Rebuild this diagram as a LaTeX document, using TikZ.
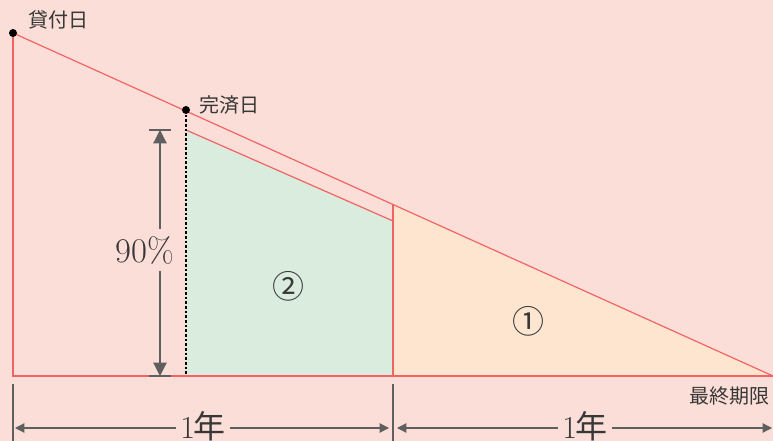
\documentclass[tikz,border=0pt]{standalone}
\usepackage{fontspec}
\newfontfamily\jpfont{Noto Sans CJK JP}
\usetikzlibrary{positioning, calc, arrows.meta}
\definecolor{bgpink}{RGB}{252,222,216}
\definecolor{greenfill}{RGB}{218,236,222}
\definecolor{orangefill}{RGB}{253,229,208}
\definecolor{linered}{RGB}{240,100,100}
\definecolor{dimgray}{RGB}{95,95,95}
\definecolor{textgray}{RGB}{55,55,55}

\begin{document}
\begin{tikzpicture}[
        x=0.75pt, y=-0.75pt,
        edge/.style={draw=linered, line width=0.9pt},
        dot/.style={circle, fill=black, inner sep=0pt, minimum size=6pt},
        datelabel/.style={font=\fontsize{15}{17}\selectfont\jpfont\light, text=textgray, inner sep=0pt},
        bigtext/.style={font=\fontsize{26}{28}\selectfont, text=textgray, inner sep=2pt},
        yeartext/.style={font=\fontsize{24}{26}\selectfont, text=textgray, inner sep=3pt},
        areatext/.style={font=\fontsize{24}{26}\selectfont\jpfont, text=textgray, inner sep=0pt},
        dimline/.style={draw=dimgray, line width=0.9pt},
        dimarrV/.style={-{Triangle[length=10pt, width=10pt]}, dimgray, line width=0.9pt},
        dimarrH/.style={-{Triangle[length=7pt, width=7pt]}, dimgray, line width=0.9pt},
    ]
    \providecommand\light{}
    % ---- Background ----
    \fill[bgpink] (0,0) rectangle (773,441);
    \useasboundingbox (0,0) rectangle (773,441);

    % ---- Key points ----
    \coordinate (A) at (13,33);
    \coordinate (O) at (13,376);
    \coordinate (E) at (773,376);
    \coordinate (P) at (186,110);
    \coordinate (Pb) at (186,376);
    \coordinate (G1) at (186,130);
    \coordinate (G2) at (393,221);
    \coordinate (Q) at (393,205);
    \coordinate (Qb) at (393,376);

    % ---- Areas ----
    \fill[greenfill] (G1) -- (G2) -- (Qb) -- (Pb) -- cycle;
    \fill[orangefill] (Q) -- (E) -- (Qb) -- cycle;

    % ---- Outlines ----
    \draw[edge] (A) -- (E);
    \draw[edge] (A) -- (O) -- (E);
    \draw[edge] (G1) -- (G2);
    \draw[edge] (Q) -- (Qb);
    \draw[black, line width=0.8pt, dash pattern=on 2pt off 1.5pt] (P) -- (Pb);

    % ---- Dates ----
    \node[dot] (loan) at (A) {};
    \node[dot] (repay) at (P) {};
    \node[datelabel, anchor=west] (loanL) at (28,20) {貸付日};
    \node[datelabel, anchor=west] (repayL) at (199,105) {完済日};
    \node[datelabel, anchor=east] (limitL) at (770,396) {最終期限};

    % ---- Area numbers ----
    \node[areatext] (n2) at (288,286) {②};
    \node[areatext] (n1) at (528,321) {①};

    % ---- 90% dimension ----
    \coordinate (vt) at (160,130);
    \coordinate (vb) at (160,376);
    \draw[dimline] (149,130) -- (171,130);
    \draw[dimline] (149,376) -- (171,376);
    \node[bigtext, inner sep=5pt] (pct) at (145,250) {90\%};
    \draw[dimarrV] (pct.north -| vt) -- (vt);
    \draw[dimarrV] (pct.south -| vb) -- (vb);

    % ---- Year dimensions ----
    \draw[dimline] (13,384) -- (13,441);
    \draw[dimline] (393,384) -- (393,441);
    \coordinate (y0) at (15,428);
    \coordinate (y1a) at (389,428);
    \coordinate (y1b) at (397,428);
    \coordinate (y2) at (772,428);
    \node[yeartext, anchor=base] (yearA) at (203,438) {1\kern-1pt{\jpfont 年}};
    \node[yeartext, anchor=base] (yearB) at (585,438) {1\kern-1pt{\jpfont 年}};
    \draw[dimarrH] (yearA.west |- y0) -- (y0);
    \draw[dimarrH] (yearA.east |- y1a) -- (y1a);
    \draw[dimarrH] (yearB.west |- y1b) -- (y1b);
    \draw[dimarrH] (yearB.east |- y2) -- (y2);
\end{tikzpicture}
\end{document}
